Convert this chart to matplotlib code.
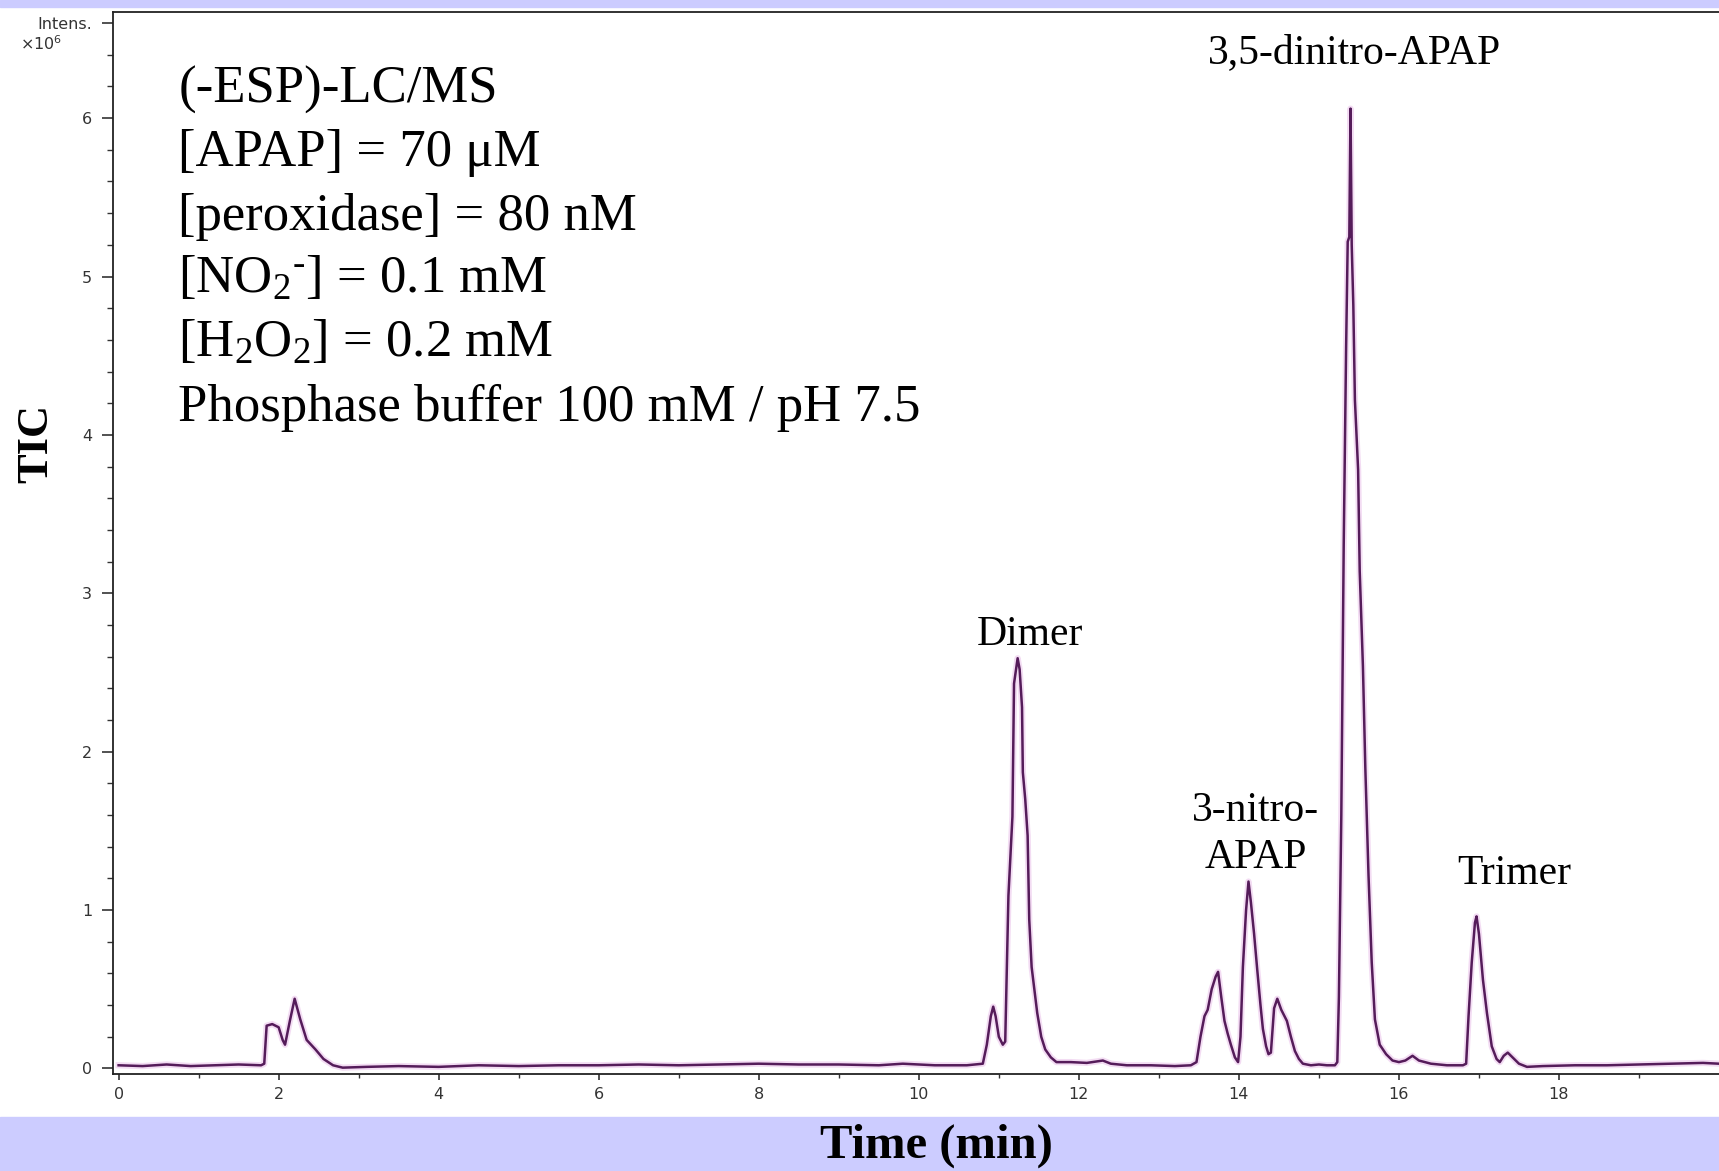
import numpy as np
import matplotlib
matplotlib.use('Agg')
import matplotlib.pyplot as plt
from matplotlib.patches import Rectangle

plt.rcParams['font.family'] = ['Liberation Serif', 'DejaVu Serif']
plt.rcParams['mathtext.default'] = 'regular'

# TIC trace (time in min, intensity in 1e6)
time = [0.0, 0.3, 0.6, 0.9, 1.2, 1.5, 1.78,
        1.82, 1.85, 1.92, 2.0, 2.05, 2.08, 2.14, 2.20, 2.27, 2.35, 2.46, 2.56, 2.68,
        2.8, 3.1, 3.5, 4.0, 4.5, 5.0, 5.5, 6.0, 6.5, 7.0, 7.5, 8.0, 8.5, 9.0, 9.5,
        9.8, 10.2, 10.6,
        10.8, 10.85, 10.9, 10.93, 10.96, 11.0, 11.05, 11.08, 11.12, 11.17, 11.19,
        11.21, 11.235, 11.26, 11.29, 11.30, 11.33, 11.36, 11.38, 11.41, 11.48,
        11.53, 11.58, 11.65, 11.72, 11.9, 12.1, 12.3, 12.4, 12.6,
        12.9, 13.2, 13.4, 13.47, 13.52, 13.57, 13.61, 13.66, 13.71, 13.74, 13.78,
        13.82, 13.86, 13.9, 13.95, 13.99, 14.02, 14.05, 14.09, 14.12, 14.15,
        14.19, 14.23, 14.27, 14.3, 14.34, 14.37, 14.40, 14.44, 14.48, 14.53,
        14.6, 14.65, 14.7, 14.75, 14.8, 14.9, 15.0, 15.1, 15.2,
        15.23, 15.25, 15.28, 15.31, 15.34, 15.36, 15.38, 15.395, 15.41, 15.43,
        15.45, 15.49, 15.51, 15.55, 15.58, 15.62, 15.66, 15.70, 15.76, 15.84,
        15.92, 16.0, 16.08, 16.17, 16.25, 16.4, 16.6, 16.8,
        16.84, 16.87, 16.91, 16.95, 16.97, 17.0, 17.05, 17.1, 17.16, 17.22,
        17.26, 17.31, 17.36, 17.42, 17.5, 17.6,
        17.8, 18.2, 18.6, 19.0, 19.4, 19.8, 20.0]
tic = [0.02, 0.015, 0.025, 0.015, 0.02, 0.025, 0.02,
       0.03, 0.27, 0.28, 0.26, 0.18, 0.15, 0.30, 0.44, 0.31, 0.18, 0.12, 0.06, 0.02,
       0.005, 0.01, 0.015, 0.01, 0.02, 0.015, 0.02, 0.02, 0.025, 0.02, 0.025,
       0.03, 0.025, 0.025, 0.02,
       0.03, 0.02, 0.02,
       0.03, 0.15, 0.33, 0.39, 0.33, 0.2, 0.15, 0.17, 1.09, 1.59, 2.43,
       2.5, 2.59, 2.52, 2.28, 1.87, 1.7, 1.47, 0.94, 0.64, 0.35,
       0.2, 0.12, 0.07, 0.04, 0.04, 0.035, 0.05, 0.03, 0.02,
       0.02, 0.015, 0.02, 0.04, 0.2, 0.33, 0.37, 0.5, 0.58, 0.61, 0.45,
       0.3, 0.22, 0.15, 0.07, 0.04, 0.2, 0.64, 1.0, 1.18, 1.05,
       0.85, 0.62, 0.4, 0.25, 0.14, 0.09, 0.1, 0.38, 0.44, 0.37,
       0.3, 0.2, 0.11, 0.06, 0.03, 0.02, 0.025, 0.02, 0.02,
       0.04, 0.45, 1.6, 3.3, 4.55, 5.22, 5.25, 6.06, 5.2, 4.82,
       4.22, 3.78, 3.14, 2.54, 1.9, 1.22, 0.67, 0.31, 0.15, 0.09,
       0.05, 0.04, 0.05, 0.08, 0.05, 0.03, 0.02, 0.02,
       0.03, 0.33, 0.67, 0.92, 0.96, 0.85, 0.56, 0.35, 0.14, 0.06,
       0.04, 0.08, 0.10, 0.07, 0.03, 0.01,
       0.015, 0.02, 0.02, 0.025, 0.03, 0.035, 0.03]

# peak labels: text, time, intensity
peak_names = ['Dimer', '3-nitro-\nAPAP', '3,5-dinitro-APAP', 'Trimer']
peak_t = [11.39, 14.21, 15.45, 17.44]
peak_i = [2.74, 1.48, 6.41, 1.23]

conditions = ['(-ESP)-LC/MS',
              '[APAP] = 70 \u03bcM',
              '[peroxidase] = 80 nM',
              '[NO$_2$$^{\u2010}$] = 0.1 mM',
              '[H$_2$O$_2$] = 0.2 mM',
              'Phosphase buffer 100 mM / pH 7.5']

fig = plt.figure(figsize=(17.19, 11.71), dpi=100)
fig.patch.set_facecolor('white')
# lavender bands of the slide
fig.patches.append(Rectangle((0, 0), 1, 0.0461, transform=fig.transFigure,
                             color='#CCCCFF', zorder=0))
fig.patches.append(Rectangle((0, 0.994), 1, 0.006, transform=fig.transFigure,
                             color='#CCCCFF', zorder=0))

ax = fig.add_axes([0.06574, 0.08284, 0.93426, 0.90692])
ax.plot(time, tic, color='#f3dcf3', lw=4.5, zorder=1)
ax.plot(time, tic, color='#551c5a', lw=1.8, zorder=2)
ax.set_xlim(-0.07, 20.0)
ax.set_ylim(-0.035, 6.67)

ax.spines['right'].set_visible(False)
for s in ['left', 'top', 'bottom']:
    ax.spines[s].set_color('#222222')
    ax.spines[s].set_linewidth(1.3)

ax.set_xticks(np.arange(0, 19, 2))
ax.set_xticks(np.arange(1, 20, 2), minor=True)
ax.set_yticks(list(range(7)) + [6.6])
ax.set_yticklabels([str(i) for i in range(7)] + ['Intens.'])
ax.set_yticks(np.arange(0, 6.61, 0.2), minor=True)
ax.tick_params(axis='both', which='both', direction='out', colors='#333333',
               labelsize=11.5)
for lab in ax.get_xticklabels() + ax.get_yticklabels():
    lab.set_fontfamily('DejaVu Sans')
ax.tick_params(axis='y', which='major', length=8, width=1.2, pad=7)
ax.tick_params(axis='y', which='minor', length=4.5, width=1.0)
ax.tick_params(axis='x', which='major', length=4.5, width=1.2, pad=5)
ax.tick_params(axis='x', which='minor', length=3, width=1.0)
ax.text(-0.7, 6.47, '\u00d710$^6$', ha='right', va='center', fontsize=11.5,
        color='#333333', family='DejaVu Sans')

# experimental conditions
base_y = [6.10, 5.70, 5.295, 4.895, 4.495, 4.09]
for txt, y in zip(conditions, base_y):
    ax.text(0.745, y, txt, ha='left', va='baseline', fontsize=38, color='black')

for name, t, i in zip(peak_names, peak_t, peak_i):
    ax.text(t, i, name, ha='center', va='center', fontsize=30,
            color='black', linespacing=1.3)

fig.text(0.545, 0.0213, 'Time (min)', ha='center', va='center', fontsize=35,
         fontweight='bold')
fig.text(0.0209, 0.6217, 'TIC', ha='center', va='center', fontsize=32,
         fontweight='bold', rotation=90)

fig.savefig('out.png', dpi=100)
